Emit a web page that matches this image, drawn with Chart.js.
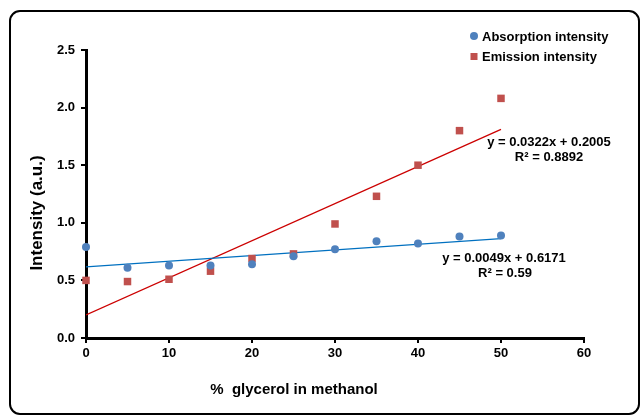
<!DOCTYPE html>
<html>
<head>
<meta charset="utf-8">
<script src="https://cdn.jsdelivr.net/npm/chart.js@4/dist/chart.umd.min.js"></script>
<style>
  html, body { margin: 0; padding: 0; background: #fff; }
  #wrap { width: 641px; height: 416px; position: relative; }
</style>
</head>
<body>
<div id="wrap"><canvas id="chart"></canvas></div>
<script>
// Data
const glycerol = [0, 5, 10, 15, 20, 25, 30, 35, 40, 45, 50];
const absorption = [0.79, 0.61, 0.63, 0.63, 0.64, 0.71, 0.77, 0.84, 0.82, 0.88, 0.89];
const emission = [0.50, 0.49, 0.51, 0.58, 0.69, 0.73, 0.99, 1.23, 1.50, 1.80, 2.08];

// Trendlines as printed on the chart
const absFit = { slope: 0.0049, intercept: 0.6171, r2: '0.59' };
const emFit = { slope: 0.0322, intercept: 0.2005, r2: '0.8892' };

const xTicks = [0, 10, 20, 30, 40, 50, 60];
const yTicks = [0.0, 0.5, 1.0, 1.5, 2.0, 2.5];

const FONT = '"Liberation Sans", Arial, sans-serif';
const BLUE = '#4F81BD';
const RED = '#C0504D';

const points = ys => glycerol.map((x, i) => ({ x, y: ys[i] }));
const fitLine = f => [0, 50].map(x => ({ x, y: f.intercept + f.slope * x }));
const eqText = f => 'y = ' + f.slope.toFixed(4) + 'x + ' + f.intercept.toFixed(4);

// frame, legend, equations and axis titles
const extras = {
  id: 'extras',
  beforeDraw(chart) {
    const ctx = chart.ctx;
    ctx.save();
    ctx.fillStyle = '#fff';
    ctx.fillRect(0, 0, chart.width, chart.height);
    ctx.strokeStyle = '#000';
    ctx.lineWidth = 2;
    ctx.beginPath();
    ctx.roundRect(10, 11, 629, 403, 10);
    ctx.stroke();
    ctx.restore();
  },
  afterDraw(chart) {
    const ctx = chart.ctx;
    ctx.save();
    ctx.fillStyle = '#000';
    ctx.textBaseline = 'middle';

    // legend
    ctx.font = 'bold 13px ' + FONT;
    ctx.textAlign = 'left';
    ctx.fillStyle = BLUE;
    ctx.beginPath();
    ctx.arc(474, 36, 4, 0, Math.PI * 2);
    ctx.fill();
    ctx.fillStyle = RED;
    ctx.fillRect(470.5, 53, 7, 7);
    ctx.fillStyle = '#000';
    ctx.fillText(chart.data.datasets[0].label, 482, 37);
    ctx.fillText(chart.data.datasets[1].label, 482, 57);

    // trendline equations
    ctx.textAlign = 'center';
    ctx.fillText(eqText(emFit), 549, 142);
    ctx.fillText('R² = ' + emFit.r2, 549, 157);
    ctx.fillText(eqText(absFit), 504, 258);
    ctx.fillText('R² = ' + absFit.r2, 505, 273);

    // axis titles
    ctx.font = 'bold 15px ' + FONT;
    ctx.fillText('%  glycerol in methanol', 294, 390);
    ctx.font = 'bold 17px ' + FONT;
    ctx.translate(37, 213);
    ctx.rotate(-Math.PI / 2);
    ctx.fillText('Intensity (a.u.)', 0, 0);
    ctx.restore();
  }
};

new Chart(document.getElementById('chart'), {
  type: 'scatter',
  data: {
    datasets: [
      {
        label: 'Absorption intensity',
        data: points(absorption),
        pointStyle: 'circle',
        pointRadius: 4,
        backgroundColor: BLUE,
        borderColor: BLUE,
        borderWidth: 0,
        clip: false
      },
      {
        label: 'Emission intensity',
        data: points(emission),
        pointStyle: 'rect',
        pointRadius: 5.3,
        backgroundColor: RED,
        borderColor: RED,
        borderWidth: 0,
        clip: false
      },
      {
        type: 'line',
        label: 'abs fit',
        data: fitLine(absFit),
        borderColor: '#0070C0',
        borderWidth: 1.3,
        pointRadius: 0
      },
      {
        type: 'line',
        label: 'em fit',
        data: fitLine(emFit),
        borderColor: '#CC0000',
        borderWidth: 1.3,
        pointRadius: 0
      }
    ]
  },
  options: {
    responsive: true,
    maintainAspectRatio: false,
    animation: false,
    layout: { padding: { left: 0, right: 57, top: 50, bottom: 0 } },
    plugins: {
      legend: { display: false },
      tooltip: { enabled: false }
    },
    scales: {
      x: {
        type: 'linear',
        min: 0,
        max: 60,
        afterBuildTicks: s => { s.ticks = xTicks.map(v => ({ value: v })); },
        afterFit: s => { s.height = 78; },
        grid: { display: true, drawOnChartArea: false, drawTicks: true, tickLength: 5, color: '#000', lineWidth: 2 },
        border: { display: true, color: '#000', width: 3 },
        ticks: { color: '#000', font: { family: FONT, size: 13, weight: 'bold' }, padding: 3, maxRotation: 0 }
      },
      y: {
        type: 'linear',
        min: 0,
        max: 2.5,
        afterBuildTicks: s => { s.ticks = yTicks.map(v => ({ value: v })); },
        afterFit: s => { s.width = 86; },
        grid: { display: true, drawOnChartArea: false, drawTicks: true, tickLength: 5, color: '#000', lineWidth: 2 },
        border: { display: true, color: '#000', width: 3 },
        ticks: { color: '#000', font: { family: FONT, size: 13, weight: 'bold' }, padding: 6, callback: v => v.toFixed(1) }
      }
    }
  },
  plugins: [extras]
});
</script>
</body>
</html>
